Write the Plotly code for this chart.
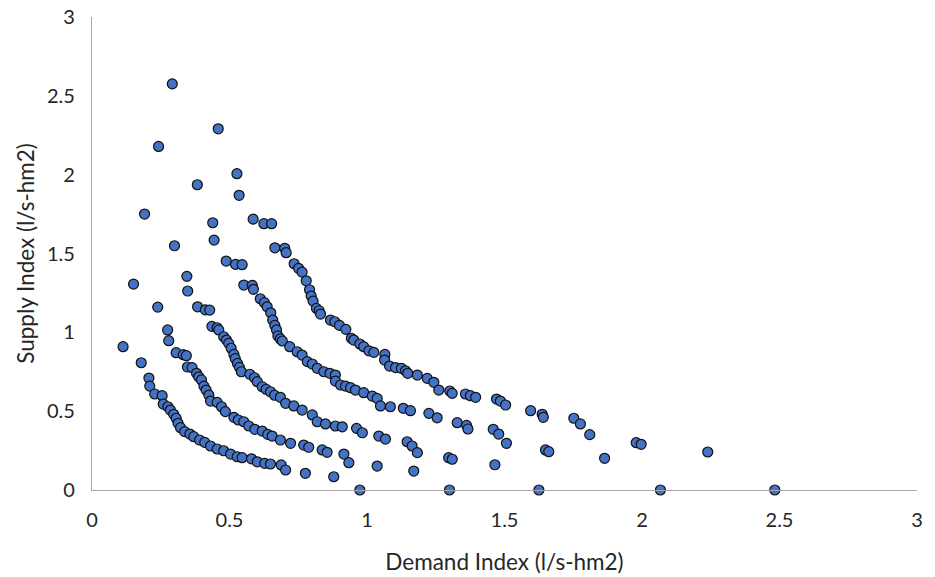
import plotly.graph_objects as go

# Curve A (innermost)
ax = [0.113, 0.179, 0.207, 0.210, 0.228, 0.255, 0.259, 0.276, 0.285, 0.297, 0.306, 0.313, 0.322, 0.337,
      0.356, 0.370, 0.391, 0.410, 0.431, 0.455, 0.479, 0.504, 0.528, 0.546, 0.580, 0.601, 0.628, 0.649,
      0.688, 0.704, 0.776, 0.879, 0.974]
ay = [0.909, 0.807, 0.710, 0.659, 0.609, 0.598, 0.545, 0.528, 0.507, 0.480, 0.455, 0.423, 0.395, 0.370,
      0.355, 0.338, 0.317, 0.302, 0.279, 0.260, 0.249, 0.228, 0.211, 0.205, 0.198, 0.179, 0.169, 0.165,
      0.159, 0.127, 0.106, 0.084, 0.0]

# Curve B
bx = [0.151, 0.239, 0.275, 0.279, 0.306, 0.332, 0.343, 0.347, 0.364, 0.380, 0.388, 0.398, 0.407, 0.415,
      0.425, 0.431, 0.455, 0.471, 0.485, 0.516, 0.532, 0.552, 0.570, 0.592, 0.619, 0.639, 0.655, 0.685,
      0.722, 0.770, 0.788, 0.837, 0.855, 0.916, 0.934, 1.037, 1.170, 1.300]
by = [1.306, 1.160, 1.015, 0.947, 0.871, 0.858, 0.852, 0.780, 0.776, 0.740, 0.718, 0.698, 0.659, 0.634,
      0.602, 0.564, 0.556, 0.528, 0.497, 0.461, 0.444, 0.433, 0.406, 0.385, 0.374, 0.353, 0.342, 0.317,
      0.296, 0.285, 0.271, 0.254, 0.239, 0.228, 0.173, 0.152, 0.120, 0.0]

# Curve C
cx = [0.191, 0.345, 0.348, 0.384, 0.412, 0.428, 0.436, 0.455, 0.461, 0.479, 0.489, 0.497, 0.506, 0.516,
      0.521, 0.529, 0.536, 0.543, 0.574, 0.591, 0.601, 0.619, 0.633, 0.649, 0.664, 0.685, 0.704, 0.734,
      0.764, 0.801, 0.819, 0.849, 0.885, 0.910, 0.962, 0.983, 1.043, 1.067, 1.146, 1.164, 1.183, 1.297,
      1.310, 1.465, 1.625]
cy = [1.750, 1.355, 1.262, 1.162, 1.143, 1.141, 1.038, 1.029, 1.015, 0.972, 0.951, 0.930, 0.899, 0.860,
      0.833, 0.803, 0.778, 0.750, 0.734, 0.712, 0.687, 0.655, 0.639, 0.623, 0.601, 0.588, 0.550, 0.533,
      0.507, 0.476, 0.433, 0.419, 0.406, 0.401, 0.391, 0.363, 0.342, 0.323, 0.306, 0.279, 0.237, 0.205,
      0.195, 0.160, 0.0]

# Curve D
dx = [0.242, 0.383, 0.439, 0.444, 0.300, 0.488, 0.522, 0.546, 0.552, 0.583, 0.587, 0.612, 0.627, 0.637,
      0.650, 0.657, 0.665, 0.671, 0.676, 0.685, 0.692, 0.719, 0.746, 0.764, 0.783, 0.801, 0.819, 0.843,
      0.865, 0.885, 0.885, 0.904, 0.922, 0.940, 0.958, 0.988, 1.019, 1.037, 1.049, 1.085, 1.132, 1.158,
      1.225, 1.255, 1.328, 1.362, 1.367, 1.459, 1.479, 1.507, 1.649, 1.661, 1.864, 2.067]
dy = [2.179, 1.936, 1.695, 1.585, 1.549, 1.452, 1.431, 1.429, 1.300, 1.298, 1.273, 1.213, 1.188, 1.162,
      1.124, 1.078, 1.044, 1.015, 0.977, 0.958, 0.945, 0.909, 0.877, 0.856, 0.814, 0.799, 0.772, 0.750,
      0.740, 0.729, 0.691, 0.666, 0.659, 0.649, 0.634, 0.617, 0.596, 0.581, 0.533, 0.528, 0.518, 0.503,
      0.486, 0.458, 0.427, 0.410, 0.387, 0.385, 0.355, 0.296, 0.254, 0.243, 0.201, 0.0]

# Curve E (outermost)
ex = [0.292, 0.459, 0.527, 0.535, 0.586, 0.625, 0.653, 0.665, 0.701, 0.706, 0.735, 0.751, 0.764, 0.779,
      0.791, 0.797, 0.804, 0.816, 0.826, 0.831, 0.867, 0.883, 0.900, 0.923, 0.943, 0.952, 0.974, 0.988,
      1.007, 1.025, 1.065, 1.064, 1.082, 1.104, 1.125, 1.140, 1.148, 1.183, 1.219, 1.243, 1.261, 1.301,
      1.310, 1.358, 1.376, 1.395, 1.471, 1.485, 1.504, 1.595, 1.637, 1.641, 1.752, 1.776, 1.810, 1.979,
      1.997, 2.239, 2.483]
ey = [2.576, 2.291, 2.006, 1.869, 1.718, 1.689, 1.689, 1.536, 1.533, 1.505, 1.435, 1.406, 1.382, 1.327,
      1.270, 1.230, 1.198, 1.152, 1.137, 1.116, 1.078, 1.067, 1.044, 1.019, 0.962, 0.951, 0.926, 0.909,
      0.883, 0.873, 0.860, 0.824, 0.786, 0.776, 0.772, 0.756, 0.740, 0.729, 0.708, 0.683, 0.634, 0.628,
      0.613, 0.609, 0.598, 0.588, 0.577, 0.564, 0.539, 0.503, 0.480, 0.461, 0.455, 0.419, 0.351, 0.300,
      0.290, 0.241, 0.0]

demand = ax + bx + cx + dx + ex
supply = ay + by + cy + dy + ey

tick_vals = [0, 0.5, 1, 1.5, 2, 2.5, 3]
tick_text = ["0", "0.5", "1", "1.5", "2", "2.5", "3"]

FONT = "Lato, 'Open Sans', sans-serif"
TXT = "#262626"

fig = go.Figure()
fig.add_trace(go.Scatter(
    x=demand, y=supply, mode="markers", cliponaxis=False,
    marker=dict(size=10, color="#4472C4", line=dict(color="#111111", width=1.2)),
    showlegend=False,
))

fig.update_layout(
    width=935, height=577,
    margin=dict(l=92, r=18, t=17, b=87),
    paper_bgcolor="white", plot_bgcolor="white",
    font=dict(family=FONT, size=20, color=TXT),
)
fig.update_xaxes(
    range=[0, 3], tickvals=tick_vals, ticktext=tick_text, automargin=False,
    showgrid=False, zeroline=False, showline=True, linecolor="#a6a6a6", linewidth=1.3,
    ticks="", ticklabelstandoff=12, tickfont=dict(size=20, color=TXT),
    title=dict(text="Demand Index (l/s-hm2)", font=dict(family=FONT, size=22.5, color=TXT), standoff=24),
)
fig.update_yaxes(
    range=[0, 3], tickvals=tick_vals, ticktext=tick_text, automargin=False,
    showgrid=False, zeroline=False, showline=True, linecolor="#a6a6a6", linewidth=1.3,
    ticks="", ticklabelstandoff=12, tickfont=dict(size=20, color=TXT),
    title=dict(text="Supply Index (l/s-hm2)", font=dict(family=FONT, size=22.5, color=TXT), standoff=6),
)

fig.write_html(
    "out.html",
    config={"displayModeBar": False},
    post_script="document.body.style.margin='0';document.body.style.overflow='hidden';",
)
